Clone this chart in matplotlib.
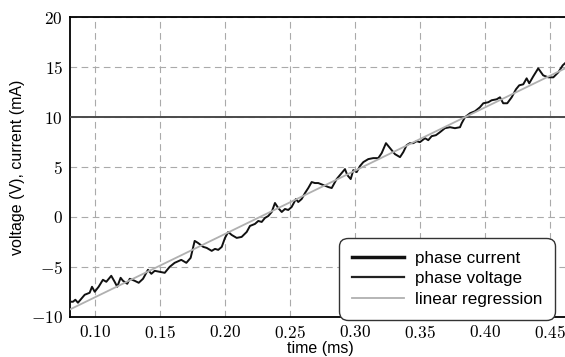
import numpy as np
import matplotlib
matplotlib.use("Agg")
import matplotlib.pyplot as plt
from matplotlib.ticker import FuncFormatter

plt.rcParams['mathtext.fontset'] = 'cm'
plt.rcParams['font.family'] = ['Liberation Sans', 'DejaVu Sans']

# ramp signal (time in ms, value)
t_ramp = [0.0806, 0.0831, 0.0849, 0.0869, 0.0895, 0.0921, 0.0959, 0.0977, 0.0998, 0.1028,
          0.1061, 0.1087, 0.1125, 0.1151, 0.1171, 0.1197, 0.1215, 0.1248, 0.1267, 0.1305,
          0.1336, 0.1369, 0.1407, 0.1433, 0.1459, 0.1497, 0.1536, 0.1574, 0.1612, 0.1663,
          0.1702, 0.1735, 0.1766, 0.1791, 0.1832, 0.1858, 0.1897, 0.1922, 0.1947, 0.1974,
          0.1999, 0.2024, 0.2050, 0.2089, 0.2127, 0.2166, 0.2191, 0.2229, 0.2255, 0.2281,
          0.2306, 0.2332, 0.2358, 0.2383, 0.2408, 0.2435, 0.2460, 0.2485, 0.2511, 0.2544,
          0.2562, 0.2588, 0.2614, 0.2639, 0.2665, 0.2690, 0.2716, 0.2754, 0.2793, 0.2819,
          0.2857, 0.2896, 0.2921, 0.2939, 0.2965, 0.2985, 0.3011, 0.3036, 0.3062, 0.3100,
          0.3138, 0.3177, 0.3203, 0.3236, 0.3267, 0.3305, 0.3344, 0.3369, 0.3395, 0.3420,
          0.3446, 0.3472, 0.3497, 0.3536, 0.3561, 0.3587, 0.3620, 0.3651, 0.3689, 0.3728,
          0.3766, 0.3805, 0.3818, 0.3843, 0.3882, 0.3920, 0.3958, 0.3984, 0.4022, 0.4048,
          0.4087, 0.4112, 0.4137, 0.4168, 0.4202, 0.4235, 0.4260, 0.4291, 0.4317, 0.4337,
          0.4368, 0.4406, 0.4444, 0.4483, 0.4522, 0.4560, 0.4594, 0.4611]
y_ramp = [-8.5, -8.5, -8.3, -8.6, -8.2, -7.8, -7.6, -7.0, -7.5, -7.0,
          -6.3, -6.5, -5.9, -6.5, -7.0, -6.1, -6.4, -6.7, -6.2, -6.4,
          -6.6, -6.2, -5.3, -5.7, -5.4, -5.5, -5.6, -5.0, -4.6, -4.3,
          -4.6, -4.1, -2.4, -2.6, -3.0, -3.1, -3.4, -3.2, -3.3, -3.0,
          -2.1, -1.5, -1.8, -2.1, -2.0, -1.5, -0.9, -0.7, -0.4, -0.5,
          -0.1, 0.1, 0.5, 1.4, 0.9, 0.5, 0.8, 0.7, 1.0, 1.8,
          1.5, 1.8, 2.4, 2.9, 3.5, 3.4, 3.4, 3.2, 3.0, 2.9,
          3.8, 4.4, 4.8, 4.2, 3.8, 4.7, 4.5, 5.1, 5.5, 5.8,
          5.9, 5.9, 6.4, 7.4, 6.9, 6.3, 6.0, 6.5, 7.2, 7.4,
          7.4, 7.6, 7.5, 7.9, 7.7, 8.1, 8.2, 8.5, 8.9, 9.0,
          8.9, 9.0, 9.4, 10.0, 10.4, 10.6, 11.0, 11.4, 11.5, 11.7,
          11.8, 12.0, 11.4, 11.4, 12.0, 12.8, 13.2, 13.3, 13.9, 13.4,
          14.1, 14.9, 14.2, 14.0, 14.0, 14.5, 15.2, 15.4]

# flat signal
t_flat = [0.0808, 0.465]
y_flat = [10.0, 10.0]

xticks = [0.10, 0.15, 0.20, 0.25, 0.30, 0.35, 0.40, 0.45]
yticks = [-10, -5, 0, 5, 10, 15, 20]

fig = plt.figure(figsize=(5.65, 3.57), dpi=100)
ax = fig.add_axes([0.1239, 0.1129, 0.8849, 0.8381])

ax.plot(t_ramp, y_ramp, color='#111111', lw=1.4, label='phase current', zorder=3)
ax.plot(t_flat, y_flat, color='#4a4a4a', lw=1.4, label='phase voltage', zorder=3)

coef = np.polyfit(t_ramp, y_ramp, 1)
t_fit = np.array([0.0808, 0.465])
ax.plot(t_fit, np.polyval(coef, t_fit), color='#b0b0b0', lw=1.3, label='linear regression', zorder=4)

ax.set_xlim(0.0808, 0.465)
ax.set_ylim(-10, 20)
ax.set_xticks(xticks)
ax.set_yticks(yticks)
ax.xaxis.set_major_formatter(FuncFormatter(lambda v, p: r'$%.2f$' % v))
ax.yaxis.set_major_formatter(FuncFormatter(lambda v, p: r'$%d$' % round(v)))
ax.tick_params(length=0, labelsize=12.5, pad=5)
ax.grid(True, color='#aaaaaa', lw=0.8, linestyle=(0, (6, 4)))
for s in ['left', 'bottom', 'top']:
    ax.spines[s].set_linewidth(1.3)
ax.spines['right'].set_visible(False)

ax.set_xlabel('time (ms)', fontsize=11.5, labelpad=0)
ax.set_ylabel('voltage (V), current (mA)', fontsize=11.5, labelpad=4)

leg = fig.legend(loc='lower right', bbox_to_anchor=(0.9823, 0.1036), fontsize=12.3,
                 frameon=True, fancybox=True, edgecolor='#333333', framealpha=1,
                 handlelength=3.05, handletextpad=0.64, labelspacing=0.34, borderpad=0.75,
                 borderaxespad=0)
leg.get_frame().set_linewidth(1.0)
leg.get_frame().set_boxstyle('round,pad=0,rounding_size=0.5')
leg.get_lines()[0].set_linewidth(2.5)
leg.get_lines()[1].set_linewidth(1.6)
leg.get_lines()[1].set_color('#222222')
leg.set_zorder(10)

fig.savefig('out.png', dpi=100)
